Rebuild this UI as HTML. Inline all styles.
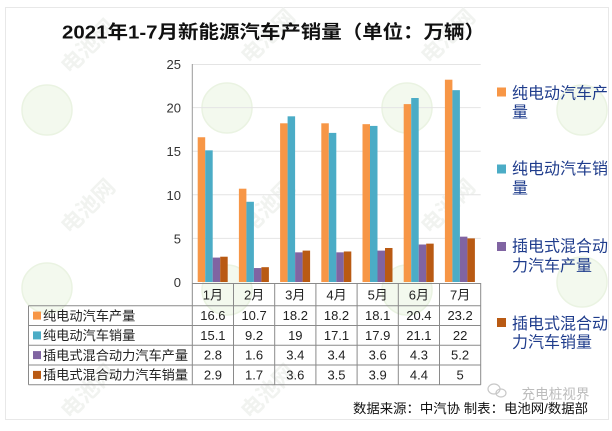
<!DOCTYPE html>
<html><head><meta charset="utf-8">
<style>
html,body{margin:0;padding:0;background:#fff;}
svg{display:block;}
text{font-family:"Liberation Sans","Noto Sans CJK SC",sans-serif;}
</style></head>
<body>
<svg width="612" height="431" viewBox="0 0 612 431" xmlns="http://www.w3.org/2000/svg">
<rect x="0" y="0" width="612" height="431" fill="#fff"/>
<rect x="5.5" y="7.5" width="603" height="412" fill="#fff" stroke="#e8e8e8" stroke-width="1"/>

<!-- watermarks -->
<g fill="#f3f9ee" stroke="#eaf3e2" stroke-width="1.5">
<circle cx="47" cy="110" r="25"/><circle cx="227" cy="108" r="25"/><circle cx="407" cy="108" r="25"/><circle cx="582" cy="110" r="25"/>
<circle cx="47" cy="288" r="25"/><circle cx="227" cy="290" r="25"/><circle cx="407" cy="290" r="25"/><circle cx="582" cy="282" r="25"/>
</g>
<g fill="#f1f3f0" font-size="22" font-weight="bold">
<text transform="translate(70,75) rotate(-45)">电池网</text>
<text transform="translate(250,65) rotate(-45)">电池网</text>
<text transform="translate(430,65) rotate(-45)">电池网</text>
<text transform="translate(70,235) rotate(-45)">电池网</text>
<text transform="translate(250,235) rotate(-45)">电池网</text>
<text transform="translate(430,235) rotate(-45)">电池网</text>
<text transform="translate(70,420) rotate(-45)">电池网</text>
<text transform="translate(250,420) rotate(-45)">电池网</text>
</g>

<!-- title -->
<text x="62" y="38.5" font-size="18.5" font-weight="bold" fill="#111" textLength="423" lengthAdjust="spacingAndGlyphs">2021年1-7月新能源汽车产销量（单位：万辆）</text>

<!-- gridlines -->
<g stroke="#e4e4e4" stroke-width="1">
<line x1="192" y1="64.5" x2="480.7" y2="64.5"/>
<line x1="192" y1="107.6" x2="480.7" y2="107.6"/>
<line x1="192" y1="151.2" x2="480.7" y2="151.2"/>
<line x1="192" y1="194.8" x2="480.7" y2="194.8"/>
<line x1="192" y1="238.4" x2="480.7" y2="238.4"/>
</g>
<line x1="192.3" y1="64" x2="192.3" y2="283" stroke="#9a9a9a" stroke-width="1"/>

<!-- y labels -->
<g font-size="13" fill="#333" text-anchor="end">
<text x="181" y="69">25</text>
<text x="181" y="112.6">20</text>
<text x="181" y="156.2">15</text>
<text x="181" y="199.8">10</text>
<text x="181" y="243.4">5</text>
<text x="181" y="287">0</text>
</g>

<!-- bars -->
<g>
<g transform="translate(197.7,0)">
<rect x="0" y="137.25" width="7.5" height="144.75" fill="#F79646"/>
<rect x="7.5" y="150.33" width="7.5" height="131.67" fill="#4BACC6"/>
<rect x="15" y="257.58" width="7.5" height="24.42" fill="#8064A2"/>
<rect x="22.5" y="256.71" width="7.5" height="25.29" fill="#B95A13"/>
</g>
<g transform="translate(238.9,0)">
<rect x="0" y="188.70" width="7.5" height="93.30" fill="#F79646"/>
<rect x="7.5" y="201.78" width="7.5" height="80.22" fill="#4BACC6"/>
<rect x="15" y="268.05" width="7.5" height="13.95" fill="#8064A2"/>
<rect x="22.5" y="267.18" width="7.5" height="14.82" fill="#B95A13"/>
</g>
<g transform="translate(280.1,0)">
<rect x="0" y="123.30" width="7.5" height="158.70" fill="#F79646"/>
<rect x="7.5" y="116.32" width="7.5" height="165.68" fill="#4BACC6"/>
<rect x="15" y="252.35" width="7.5" height="29.65" fill="#8064A2"/>
<rect x="22.5" y="250.61" width="7.5" height="31.39" fill="#B95A13"/>
</g>
<g transform="translate(321.3,0)">
<rect x="0" y="123.30" width="7.5" height="158.70" fill="#F79646"/>
<rect x="7.5" y="132.89" width="7.5" height="149.11" fill="#4BACC6"/>
<rect x="15" y="252.35" width="7.5" height="29.65" fill="#8064A2"/>
<rect x="22.5" y="251.48" width="7.5" height="30.52" fill="#B95A13"/>
</g>
<g transform="translate(362.5,0)">
<rect x="0" y="124.17" width="7.5" height="157.83" fill="#F79646"/>
<rect x="7.5" y="125.91" width="7.5" height="156.09" fill="#4BACC6"/>
<rect x="15" y="250.61" width="7.5" height="31.39" fill="#8064A2"/>
<rect x="22.5" y="247.99" width="7.5" height="34.01" fill="#B95A13"/>
</g>
<g transform="translate(403.7,0)">
<rect x="0" y="104.11" width="7.5" height="177.89" fill="#F79646"/>
<rect x="7.5" y="98.01" width="7.5" height="183.99" fill="#4BACC6"/>
<rect x="15" y="244.50" width="7.5" height="37.50" fill="#8064A2"/>
<rect x="22.5" y="243.63" width="7.5" height="38.37" fill="#B95A13"/>
</g>
<g transform="translate(444.9,0)">
<rect x="0" y="79.70" width="7.5" height="202.30" fill="#F79646"/>
<rect x="7.5" y="90.16" width="7.5" height="191.84" fill="#4BACC6"/>
<rect x="15" y="236.66" width="7.5" height="45.34" fill="#8064A2"/>
<rect x="22.5" y="238.40" width="7.5" height="43.60" fill="#B95A13"/>
</g>
</g>

<!-- table lines -->
<g stroke="#8a8a8a" stroke-width="1" fill="none">
<line x1="192.3" y1="283.5" x2="480.7" y2="283.5"/>
<line x1="28.5" y1="305.7" x2="480.7" y2="305.7"/>
<line x1="28.5" y1="325.5" x2="480.7" y2="325.5"/>
<line x1="28.5" y1="345.3" x2="480.7" y2="345.3"/>
<line x1="28.5" y1="365" x2="480.7" y2="365"/>
<line x1="28.5" y1="384.8" x2="480.7" y2="384.8"/>
<line x1="28.5" y1="305.7" x2="28.5" y2="384.8"/>
<line x1="192.3" y1="283" x2="192.3" y2="384.8"/>
<line x1="233.5" y1="283" x2="233.5" y2="384.8"/>
<line x1="274.7" y1="283" x2="274.7" y2="384.8"/>
<line x1="315.9" y1="283" x2="315.9" y2="384.8"/>
<line x1="357.1" y1="283" x2="357.1" y2="384.8"/>
<line x1="398.3" y1="283" x2="398.3" y2="384.8"/>
<line x1="439.5" y1="283" x2="439.5" y2="384.8"/>
<line x1="480.7" y1="283" x2="480.7" y2="384.8"/>
</g>

<!-- month headers -->
<g font-size="13" fill="#222" text-anchor="middle">
<text x="212.9" y="299.5">1月</text>
<text x="254.1" y="299.5">2月</text>
<text x="295.3" y="299.5">3月</text>
<text x="336.5" y="299.5">4月</text>
<text x="377.7" y="299.5">5月</text>
<text x="418.9" y="299.5">6月</text>
<text x="460.1" y="299.5">7月</text>
</g>

<!-- row values -->
<g font-size="13" fill="#222" text-anchor="middle">
<text x="212.9" y="320.2">16.6</text><text x="254.1" y="320.2">10.7</text><text x="295.3" y="320.2">18.2</text><text x="336.5" y="320.2">18.2</text><text x="377.7" y="320.2">18.1</text><text x="418.9" y="320.2">20.4</text><text x="460.1" y="320.2">23.2</text>
<text x="212.9" y="340">15.1</text><text x="254.1" y="340">9.2</text><text x="295.3" y="340">19</text><text x="336.5" y="340">17.1</text><text x="377.7" y="340">17.9</text><text x="418.9" y="340">21.1</text><text x="460.1" y="340">22</text>
<text x="212.9" y="359.7">2.8</text><text x="254.1" y="359.7">1.6</text><text x="295.3" y="359.7">3.4</text><text x="336.5" y="359.7">3.4</text><text x="377.7" y="359.7">3.6</text><text x="418.9" y="359.7">4.3</text><text x="460.1" y="359.7">5.2</text>
<text x="212.9" y="379.5">2.9</text><text x="254.1" y="379.5">1.7</text><text x="295.3" y="379.5">3.6</text><text x="336.5" y="379.5">3.5</text><text x="377.7" y="379.5">3.9</text><text x="418.9" y="379.5">4.4</text><text x="460.1" y="379.5">5</text>
</g>

<!-- row labels -->
<rect x="33" y="311.6" width="8" height="8" fill="#F79646"/>
<rect x="33" y="331.4" width="8" height="8" fill="#4BACC6"/>
<rect x="33" y="351.1" width="8" height="8" fill="#8064A2"/>
<rect x="33" y="370.9" width="8" height="8" fill="#B95A13"/>
<g font-size="13.2" fill="#222">
<text x="43" y="320.4">纯电动汽车产量</text>
<text x="43" y="340.2">纯电动汽车销量</text>
<text x="43" y="359.9">插电式混合动力汽车产量</text>
<text x="43" y="379.7">插电式混合动力汽车销量</text>
</g>

<!-- legend -->
<rect x="497" y="87.5" width="9" height="9" fill="#F79646"/>
<rect x="497" y="164.5" width="9" height="9" fill="#4BACC6"/>
<rect x="497" y="242" width="9" height="9" fill="#8064A2"/>
<rect x="497" y="318" width="9" height="9" fill="#B95A13"/>
<g font-size="16" fill="#1F3C8C">
<text x="512" y="98.5">纯电动汽车产</text>
<text x="512" y="117.5">量</text>
<text x="512" y="174">纯电动汽车销</text>
<text x="512" y="193.5">量</text>
<text x="512" y="251.5">插电式混合动</text>
<text x="512" y="271">力汽车产量</text>
<text x="512" y="329">插电式混合动</text>
<text x="512" y="347.5">力汽车销量</text>
</g>

<!-- wechat watermark -->
<g fill="none" stroke="#c8c8c8" stroke-width="1.2">
<ellipse cx="494" cy="389" rx="6" ry="5"/>
<ellipse cx="501" cy="393" rx="5" ry="4"/>
</g>
<text x="521.5" y="399" font-size="14" fill="#bcbcbc" textLength="68" lengthAdjust="spacingAndGlyphs">充电桩视界</text>

<!-- footer -->
<text x="353" y="413" font-size="13" fill="#111" textLength="235" lengthAdjust="spacingAndGlyphs">数据来源：中汽协 制表：电池网/数据部</text>
</svg>
</body></html>
